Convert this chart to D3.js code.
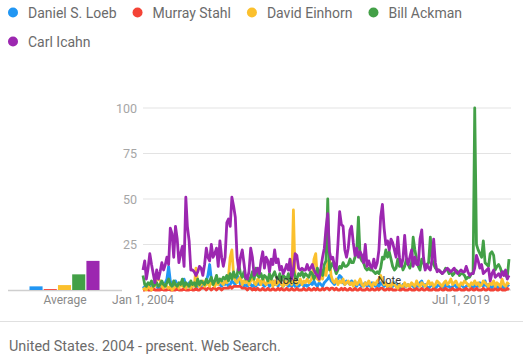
<!DOCTYPE html>
<html><head><meta charset="utf-8">
<script src="https://cdn.jsdelivr.net/npm/d3@7"></script>
<style>
html,body{margin:0;padding:0;background:#fff;}
svg{display:block;font-family:Roboto, "Noto Sans", sans-serif;}
</style></head>
<body><svg id="chart" width="523" height="359"></svg>
<script>
const seriesNames = ["Daniel S. Loeb","Murray Stahl","David Einhorn","Bill Ackman","Carl Icahn"];
const seriesColors = ["#2196f3","#f44336","#fbc02d","#43a047","#9c27b0"];
const startMonth = "2004-01-01";
const yTicks = [25,50,75,100];
const xTickDates = ["2004-01-01","2019-07-01"];
const xTickLabels = ["Jan 1, 2004","Jul 1, 2019"];
const noteDates = ["2011-01-01","2016-01-01"];
const averages = [2,0.5,2.7,8.6,16];
const footerText = "United States. 2004 - present. Web Search.";

const loeb = [
2,1,3,2,1,2,4,3,2,1,2,3, 2,4,6,13,5,3,2,5,3,2,4,3, 6,3,2,4,3,2,3,4,2,3,2,4,
3,5,8,14,6,4,3,5,4,3,2,4, 3,4,2,3,5,4,3,8,6,3,4,2, 3,2,4,3,2,3,2,4,3,5,3,2,
3,4,2,3,5,3,4,2,5,3,2,4, 3,2,3,2,4,2,3,2,3,4,2,3, 2,3,4,3,5,3,2,4,3,2,4,5,
6,8,5,4,3,5,6,8,7,4,3,5, 4,3,5,4,3,2,4,3,2,3,4,2, 3,2,4,3,2,3,2,4,3,2,3,2,
2,3,2,4,2,3,2,1,3,2,2,3, 2,3,2,1,3,2,4,5,2,3,2,1, 2,3,2,1,2,3,2,2,1,3,2,2,
1,2,3,2,1,2,3,2,1,2,3,2, 2,1,3,2,2,4,3,2,5,2,3,2, 1,3,2,2,1,3,2,1,2,3,2];
const stahl = [
0,0,1,0,0,0,1,0,0,0,0,1, 0,0,0,1,0,0,0,0,1,0,0,0, 1,0,0,0,1,0,0,1,0,0,1,1,
1,0,1,1,0,1,1,0,1,1,0,1, 1,1,1,2,1,2,2,2,2,2,1,1, 1,0,1,1,0,1,0,1,0,0,1,0,
0,1,0,0,1,0,0,1,0,1,0,0, 1,0,0,1,0,0,1,0,0,0,1,0, 0,1,0,0,1,0,1,0,0,1,0,1,
1,0,1,1,0,1,0,0,1,0,1,0, 0,1,0,0,1,0,0,1,0,0,0,1, 0,0,1,0,0,1,0,1,1,0,0,1,
0,1,0,0,0,1,0,0,1,0,0,0, 1,0,0,0,1,0,0,1,0,0,1,0, 0,0,1,0,0,0,1,0,0,1,0,0,
0,1,0,0,0,1,0,0,0,1,0,0, 1,0,0,1,0,0,0,1,0,0,1,0, 0,0,1,0,0,1,0,0,0,1,0];
const einhorn = [
0,1,0,2,1,0,3,2,6,6,5,2, 1,3,2,1,2,0,1,2,3,1,4,2, 2,1,3,2,1,3,2,12,4,2,3,5,
2,3,4,2,5,3,2,4,3,6,4,3, 5,4,7,18,22,8,5,4,6,7,3,5, 4,6,3,5,8,4,3,6,5,3,7,4,
3,5,4,6,2,5,3,4,6,3,2,5, 3,4,6,3,44,5,3,4,6,3,5,4, 6,4,5,7,17,20,6,5,8,6,12,8,
15,17,8,5,4,6,3,5,4,6,3,4, 5,3,4,2,5,3,4,6,3,2,4,3, 5,3,2,4,3,5,6,8,5,3,4,2,
3,2,4,3,2,1,3,2,2,4,2,3, 2,4,3,2,5,3,2,4,3,2,3,5, 3,4,2,3,5,4,3,2,4,5,3,4,
6,3,4,5,3,2,4,3,5,4,3,2, 4,3,5,3,4,2,3,5,4,3,2,4, 3,5,2,4,3,2,6,3,2,4,3];
const ackman = [
8,3,2,4,3,5,2,3,4,2,3,5, 3,2,4,6,3,2,5,3,2,4,3,6, 2,4,3,2,5,3,4,2,6,3,5,4,
3,6,4,5,7,3,5,8,4,6,5,7, 6,8,5,9,6,10,7,8,14,9,7,10, 6,8,5,7,10,6,12,8,7,9,6,8,
7,5,9,6,8,10,7,6,9,5,8,7, 6,9,5,8,11,7,6,9,8,10,7,9, 8,7,10,9,6,8,12,9,11,8,14,16,
50,11,13,15,12,9,11,13,12,15,13,13, 14,17,15,15,18,21,40,18,16,15,12,11, 12,11,11,10,9,10,9,12,18,17,22,18,
21,17,13,11,12,17,13,15,11,13,17,14, 12,15,29,22,17,13,11,17,15,12,14,15, 29,17,14,12,11,11,10,9,10,12,11,9,
10,8,9,11,10,8,9,9,8,6,7,7, 9,9,100,25,22,20,18,27,15,14,13,20, 21,19,11,13,14,12,9,10,8,7,17];
const icahn = [
11,16,6,12,20,14,9,4,11,6,10,15, 11,14,18,14,34,31,18,35,28,15,20,24, 13,51,35,27,11,11,10,8,10,13,12,8,
14,23,18,16,25,18,20,23,13,27,18,13, 18,37,39,35,51,46,40,18,11,18,22,15, 7,6,10,23,18,8,10,12,9,16,21,12,
18,16,10,17,14,22,15,17,11,13,9,11, 14,11,17,6,11,20,19,12,11,12,11,11, 14,11,12,14,11,9,8,6,12,18,23,34,
42,21,17,18,13,11,25,43,36,35,22,18, 23,33,35,26,19,23,18,21,19,15,25,13, 16,13,12,17,12,15,22,40,47,34,25,27,
22,28,26,22,18,29,18,13,17,30,18,14, 18,22,13,18,14,14,28,33,18,11,14,12, 11,17,28,15,10,11,10,9,10,11,12,11,
10,11,12,10,9,10,11,10,10,13,10,8, 9,9,12,19,16,12,14,9,10,11,12,5, 9,11,7,8,9,7,10,8,11,6,8,11];
const seriesValues = [loeb, stahl, einhorn, ackman, icahn];

const svg = d3.select("#chart");
const parse = d3.timeParse("%Y-%m-%d");
const t0 = parse(startMonth);
const months = d3.range(loeb.length).map(i => d3.timeMonth.offset(t0, i));

// Legend
const legend = svg.append("g");
let lx = 13, ly = 12.5;
seriesNames.forEach((name, i) => {
  if (i === 4) { lx = 13; ly = 41.5; }
  legend.append("circle").attr("cx", lx).attr("cy", ly).attr("r", 5).attr("fill", seriesColors[i]);
  const t = legend.append("text").attr("x", lx + 15).attr("y", ly + 5)
    .attr("font-size", 14).attr("fill", "#6b6b6b").text(name);
  lx = lx + 15 + t.node().getComputedTextLength() + 21;
});

// Scales
const y = d3.scaleLinear().domain([0, 100]).range([290, 108]);
const x = d3.scaleTime().domain([t0, months[months.length - 1]]).range([143, 509]);

// Grid
const grid = svg.append("g");
grid.selectAll("line").data(yTicks).join("line")
  .attr("x1", 143).attr("x2", 511).attr("y1", d => y(d)).attr("y2", d => y(d))
  .attr("stroke", "#e3e3e3").attr("stroke-width", 1);
grid.selectAll("text").data(yTicks).join("text")
  .attr("x", 137).attr("y", d => y(d) + 4.5).attr("text-anchor", "end")
  .attr("font-size", 12.5).attr("fill", "#a6a6a6").text(d => d);
svg.append("line").attr("x1", 143).attr("x2", 511).attr("y1", y(0)).attr("y2", y(0))
  .attr("stroke", "#cfcfcf");

// x ticks
svg.append("g").selectAll("text").data(xTickDates).join("text")
  .attr("x", d => x(parse(d))).attr("y", 304).attr("text-anchor", "middle")
  .attr("font-size", 12).attr("fill", "#8a8a8a").text((d, i) => xTickLabels[i]);

// Average bars
const band = d3.scaleBand().domain(seriesNames).range([29.5, 99.5]).paddingInner(0.08);
svg.append("line").attr("x1", 8).attr("x2", 122).attr("y1", 290.5).attr("y2", 290.5)
  .attr("stroke", "#cfcfcf").attr("stroke-width", 1.5);
svg.append("g").selectAll("rect").data(averages).join("rect")
  .attr("x", (d, i) => band(seriesNames[i])).attr("width", band.bandwidth())
  .attr("y", d => y(d)).attr("height", d => y(0) - y(d))
  .attr("fill", (d, i) => seriesColors[i]);
svg.append("text").attr("x", 65).attr("y", 304).attr("text-anchor", "middle")
  .attr("font-size", 12).attr("fill", "#8a8a8a").text("Average");

// Lines: drawn in series order, last series on top
const line = d3.line().x((d, i) => x(months[i])).y(d => y(d)).curve(d3.curveLinear);
const lines = svg.append("g");
seriesValues.forEach((vals, k) => {
  lines.append("path").datum(vals).attr("d", line)
    .attr("fill", "none").attr("stroke", seriesColors[k]).attr("stroke-width", 2.8)
    .attr("stroke-linejoin", "round");
});

// Notes
svg.append("g").selectAll("text").data(noteDates).join("text")
  .attr("x", d => x(parse(d))).attr("y", 284).attr("text-anchor", "middle")
  .attr("font-size", 11).attr("fill", "#333").text("Note");

// Footer
svg.append("line").attr("x1", 0).attr("x2", 523).attr("y1", 321.5).attr("y2", 321.5)
  .attr("stroke", "#e0e0e0");
svg.append("text").attr("x", 9).attr("y", 351).attr("font-size", 14.4)
  .attr("fill", "#6b6b6b").text(footerText);
</script></body></html>
